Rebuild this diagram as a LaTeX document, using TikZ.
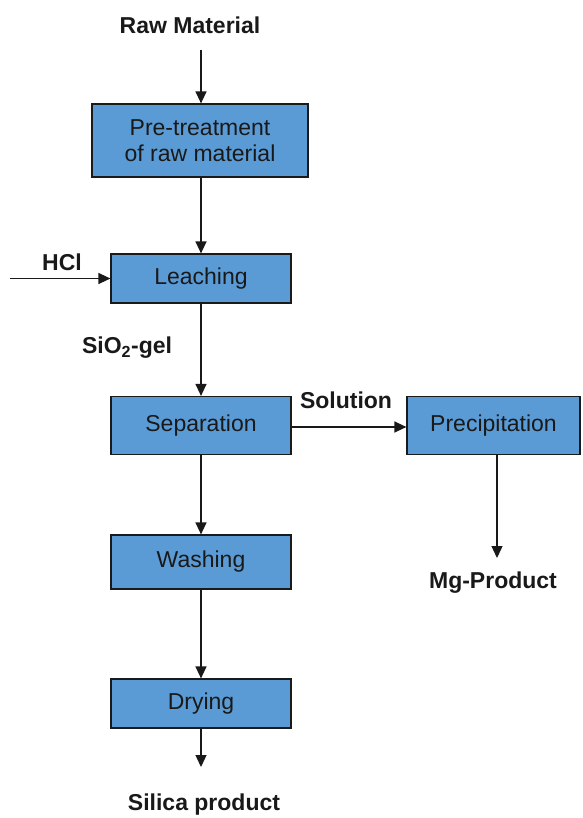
\documentclass[tikz,border=0pt]{standalone}
\usepackage{fontspec}
\setmainfont{Liberation Sans}
\usetikzlibrary{arrows.meta}
\definecolor{boxblue}{HTML}{5B9BD5}
\definecolor{edgegray}{HTML}{1A1A1A}
\begin{document}
\begin{tikzpicture}[x=1pt,y=-1pt,
  procbox/.style={draw=edgegray,line width=1.2pt,fill=boxblue,rectangle,inner sep=0pt,
    align=center,font=\fontsize{23}{26}\selectfont,text=black!90},
  lbl/.style={font=\fontsize{23}{26}\selectfont\bfseries,inner sep=0pt,text=black!90},
  flow/.style={line width=1.3pt,draw=black!90,-{Triangle[width=11pt,length=12pt]}}]
\useasboundingbox (0,0) rectangle (582,818);
% boxes
\node[procbox,minimum width=216pt,minimum height=73pt] (pre) at (200,140.5) {Pre-treatment\\of raw material};
\node[procbox,minimum width=180pt,minimum height=49pt] (leach) at (201,278.5) {Leaching};
\node[procbox,minimum width=180pt,minimum height=58pt] (sep) at (201,425.5) {Separation};
\node[procbox,minimum width=173pt,minimum height=58pt] (prec) at (493.5,425.5) {Precipitation};
\node[procbox,minimum width=180pt,minimum height=54pt] (wash) at (201,562) {Washing};
\node[procbox,minimum width=180pt,minimum height=49pt] (dry) at (201,703.5) {Drying};
% labels
\node[lbl] (raw) at (190,25) {Raw Material};
\node[lbl] (hcl) at (62,262) {HCl};
\node[lbl] (gel) at (127,348) {SiO\textsubscript{2}-gel};
\node[lbl] (sol) at (346,400) {Solution};
\node[lbl] (mg) at (493,583) {Mg-Product};
\node[lbl] (silica) at (204,805) {Silica product};
% free ends
\coordinate (rawend) at (201,50);
\coordinate (hclend) at (10,278.5);
\coordinate (mgend) at (497,558);
\coordinate (dryend) at (201,767);
% connectors
\draw[flow] (rawend) -- (rawend |- pre.north);
\draw[flow] (pre.south -| rawend) -- (leach.north);
\draw[flow] (hclend) -- (leach.west);
\draw[flow] (leach.south) -- (sep.north);
\draw[flow] (sep.east |- 0,427) -- (prec.west |- 0,427);
\draw[flow] (prec.south -| mgend) -- (mgend);
\draw[flow] (sep.south) -- (wash.north);
\draw[flow] (wash.south) -- (dry.north);
\draw[flow] (dry.south) -- (dryend);
\end{tikzpicture}
\end{document}
